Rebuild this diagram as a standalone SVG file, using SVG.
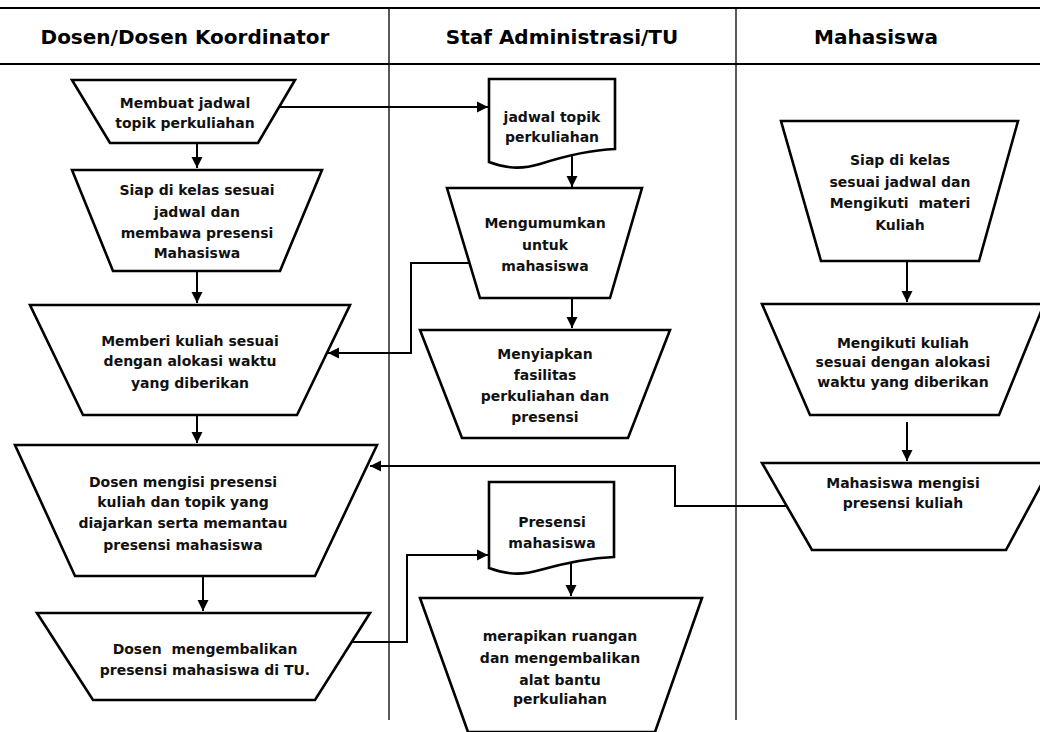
<svg xmlns="http://www.w3.org/2000/svg" width="1040" height="732" viewBox="0 0 1040 732">
<style>
.bg{fill:#fff}
.lane{stroke:#000;stroke-width:1.3;fill:none}
.hline{stroke:#000;stroke-width:2;fill:none}
.hdr{font-family:"DejaVu Sans",Verdana,sans-serif;font-weight:bold;font-size:20px;fill:#000;text-anchor:middle}
.shape{fill:#fff;stroke:#000;stroke-width:2.6;stroke-linejoin:miter}
.t{font-family:"DejaVu Sans",Verdana,sans-serif;font-weight:bold;font-size:14px;fill:#111;text-anchor:middle;white-space:pre}
.c{stroke:#000;stroke-width:2;fill:none}
</style>
<defs>
<marker id="arr" markerUnits="userSpaceOnUse" markerWidth="12" markerHeight="12" refX="11" refY="6" orient="auto">
<path d="M0,0.5 L11,6 L0,11.5 Z" fill="#000"/>
</marker>
</defs>
<rect class="bg" x="0" y="0" width="1040" height="732"/>
<g id="lanes">
<line class="hline" x1="0" y1="8" x2="1040" y2="8"/>
<line class="hline" x1="0" y1="64" x2="1040" y2="64"/>
<line class="lane" x1="389" y1="8" x2="389" y2="720"/>
<line class="lane" x1="736" y1="8" x2="736" y2="720"/>
<text class="hdr" x="185" y="44">Dosen/Dosen Koordinator</text>
<text class="hdr" x="562" y="44">Staf Administrasi/TU</text>
<text class="hdr" x="876" y="44">Mahasiswa</text>
</g>
<g id="connectors">
<path class="c" d="M280,107 H488" marker-end="url(#arr)"/>
<path class="c" d="M197,144 V168" marker-end="url(#arr)"/>
<path class="c" d="M197,271 V303" marker-end="url(#arr)"/>
<path class="c" d="M197,415 V443" marker-end="url(#arr)"/>
<path class="c" d="M203,576 V611" marker-end="url(#arr)"/>
<path class="c" d="M469,263 H411 V353 H328" marker-end="url(#arr)"/>
<path class="c" d="M786,506 H675 V466 H370" marker-end="url(#arr)"/>
<path class="c" d="M352,642 H407 V555 H488" marker-end="url(#arr)"/>
<path class="c" d="M572,152 V187" marker-end="url(#arr)"/>
<path class="c" d="M572,298 V328" marker-end="url(#arr)"/>
<path class="c" d="M571,563 V596" marker-end="url(#arr)"/>
<path class="c" d="M907,261 V302" marker-end="url(#arr)"/>
<path class="c" d="M907,422 V461" marker-end="url(#arr)"/>
</g>
<g id="n1">
<polygon class="shape" points="72,80 295,80 258,143 110,143"/>
<text class="t" x="185" y="108">Membuat jadwal</text>
<text class="t" x="185" y="128">topik perkuliahan</text>
</g>
<g id="n2">
<polygon class="shape" points="72,170 322,170 280,271 113,271"/>
<text class="t" x="197" y="195">Siap di kelas sesuai</text>
<text class="t" x="197" y="217">jadwal dan</text>
<text class="t" x="197" y="238">membawa presensi</text>
<text class="t" x="197" y="258">Mahasiswa</text>
</g>
<g id="n3">
<polygon class="shape" points="30,305 350,305 297,415 83,415"/>
<text class="t" x="190" y="346">Memberi kuliah sesuai</text>
<text class="t" x="190" y="366">dengan alokasi waktu</text>
<text class="t" x="190" y="388">yang diberikan</text>
</g>
<g id="n4">
<polygon class="shape" points="15,445 377,445 315,576 75,576"/>
<text class="t" x="183" y="487">Dosen mengisi presensi</text>
<text class="t" x="183" y="507">kuliah dan topik yang</text>
<text class="t" x="183" y="528">diajarkan serta memantau</text>
<text class="t" x="183" y="550">presensi mahasiswa</text>
</g>
<g id="n5">
<polygon class="shape" points="37,613 370,613 315,700 93,700"/>
<text class="t" x="205" y="654" xml:space="preserve">Dosen  mengembalikan</text>
<text class="t" x="205" y="675">presensi mahasiswa di TU.</text>
</g>
<g id="d1">
<path class="shape" d="M489,79 H615 V149 C590,150 565,156 540,164 C520,170 505,168 489,162 Z"/>
<text class="t" x="552" y="122">jadwal topik</text>
<text class="t" x="552" y="142">perkuliahan</text>
</g>
<g id="s1">
<polygon class="shape" points="447,188 642,188 610,298 480,298"/>
<text class="t" x="545" y="228">Mengumumkan</text>
<text class="t" x="545" y="250">untuk</text>
<text class="t" x="545" y="271">mahasiswa</text>
</g>
<g id="s2">
<polygon class="shape" points="420,330 670,330 628,438 462,438"/>
<text class="t" x="545" y="359">Menyiapkan</text>
<text class="t" x="545" y="380">fasilitas</text>
<text class="t" x="545" y="401">perkuliahan dan</text>
<text class="t" x="545" y="422">presensi</text>
</g>
<g id="d2">
<path class="shape" d="M489,482 H614 V557 C590,558 565,563 540,570 C520,576 505,574 489,568 Z"/>
<text class="t" x="552" y="527">Presensi</text>
<text class="t" x="552" y="548">mahasiswa</text>
</g>
<g id="s3">
<polygon class="shape" points="420,598 702,598 655,732 468,732"/>
<text class="t" x="560" y="641">merapikan ruangan</text>
<text class="t" x="560" y="663">dan mengembalikan</text>
<text class="t" x="560" y="685">alat bantu</text>
<text class="t" x="560" y="704">perkuliahan</text>
</g>
<g id="m1">
<polygon class="shape" points="781,121 1018,121 979,261 821,261"/>
<text class="t" x="900" y="165">Siap di kelas</text>
<text class="t" x="900" y="187">sesuai jadwal dan</text>
<text class="t" x="900" y="208" xml:space="preserve">Mengikuti  materi</text>
<text class="t" x="900" y="230">Kuliah</text>
</g>
<g id="m2">
<polygon class="shape" points="762,304 1044,304 999,415 810,415"/>
<text class="t" x="903" y="348">Mengikuti kuliah</text>
<text class="t" x="903" y="367">sesuai dengan alokasi</text>
<text class="t" x="903" y="387">waktu yang diberikan</text>
</g>
<g id="m3">
<polygon class="shape" points="762,463 1053,463 1006,550 812,550"/>
<text class="t" x="903" y="488">Mahasiswa mengisi</text>
<text class="t" x="903" y="508">presensi kuliah</text>
</g>
</svg>
